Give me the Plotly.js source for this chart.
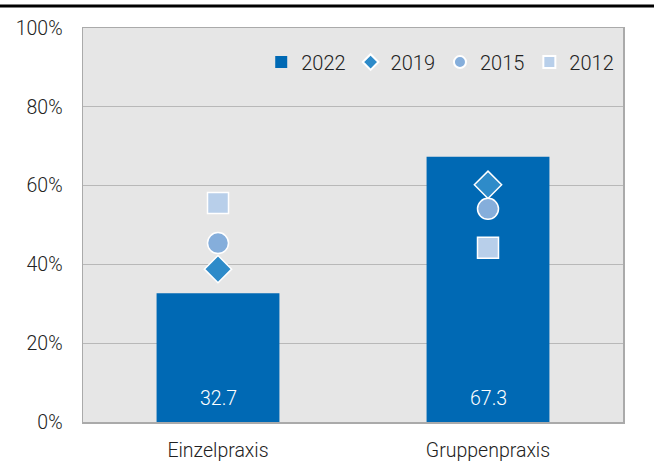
<!DOCTYPE html>
<html>
<head>
<meta charset="utf-8">
<script src="https://cdn.plot.ly/plotly-3.0.1.min.js"></script>
<style>
  body { margin: 0; background: #fff; }
  #chart { width: 654px; height: 472px; }
</style>
</head>
<body>
<div id="chart"></div>
<script>
const kategorien = ["Einzelpraxis", "Gruppenpraxis"]
const werte2022 = [32.7, 67.3]
const werte2019 = [38.8, 60.2]
const werte2015 = [45.4, 54.1]
const werte2012 = [55.6, 44.2]

const schrift = { family: "Roboto", size: 19.5, color: "#222222", weight: 300 }

const balken = {
  name: "2022",
  x: kategorien,
  y: werte2022,
  type: "bar",
  marker: { color: "#0069b4" },
  hoverinfo: "none",
}

// Punkte fuer die frueheren Jahre
const punkte = (name, y, symbol, farbe) => ({
  name: name,
  x: kategorien,
  y: y,
  type: "scatter",
  mode: "markers",
  marker: { symbol: symbol, size: 21, color: farbe, line: { color: "#ffffff", width: 1.5 } },
  hoverinfo: "none",
})

const daten = [
  balken,
  punkte("2019", werte2019, "diamond", "#2e8bc9"),
  punkte("2015", werte2015, "circle", "#85aedb"),
  punkte("2012", werte2012, "square", "#b8cfea"),
]

// Werte unten im Balken
const beschriftungen = kategorien.map((k, i) => ({
  x: k, y: 0, yanchor: "middle", yshift: 24,
  text: werte2022[i].toFixed(1),
  showarrow: false,
  font: { family: "Roboto", size: 19.5, color: "#ffffff", weight: 300 },
}))

const layout = {
  width: 654,
  height: 472,
  margin: { l: 83, r: 31, t: 28, b: 50 },
  paper_bgcolor: "#ffffff",
  plot_bgcolor: "#e6e6e6",
  font: schrift,
  bargap: 0.545,
  showlegend: true,
  legend: {
    orientation: "h",
    x: 0.993, xanchor: "right",
    y: 0.963, yanchor: "top",
    bgcolor: "rgba(0,0,0,0)",
    font: { family: "Roboto", size: 20, color: "#222222", weight: 300 },
    itemsizing: "constant",
  },
  xaxis: {
    showline: true, mirror: true, linecolor: "#aaaaaa", linewidth: 1.5,
    ticks: "", tickfont: schrift, ticklabelstandoff: 10,
  },
  yaxis: {
    range: [0, 100], dtick: 20, ticksuffix: "%",
    showline: true, mirror: true, linecolor: "#aaaaaa", linewidth: 1.5,
    gridcolor: "#b8b8b8", gridwidth: 1,
    zeroline: false, ticks: "", ticklen: 0,
    tickfont: schrift, ticklabelstandoff: 15,
  },
  annotations: beschriftungen,
  shapes: [
    {
      type: "line", xref: "paper", yref: "paper",
      x0: -83 / 540, x1: 1 + 31 / 540, y0: 1 + 22 / 394, y1: 1 + 22 / 394,
      line: { color: "#000000", width: 3 },
    },
  ],
}

Plotly.newPlot("chart", daten, layout, { displayModeBar: false, staticPlot: true })
</script>
</body>
</html>
